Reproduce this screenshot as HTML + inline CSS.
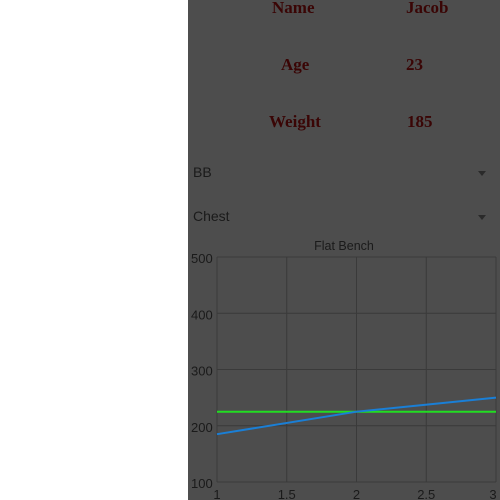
<!DOCTYPE html>
<html><head><meta charset="utf-8"><style>
body{margin:0;width:500px;height:500px;background:#fff;position:relative;overflow:hidden;font-family:"Liberation Sans",sans-serif}
#panel{position:absolute;left:188px;top:0;width:312px;height:500px;background:#4d4d4d}
.lbl{position:absolute;font-family:"Liberation Serif",serif;font-size:17px;color:#3a0505;font-weight:bold}
.dd{position:absolute;left:5px;font-size:14px;color:#1a1a1a}
.arrow{position:absolute;left:290px;width:0;height:0;border-left:4px solid transparent;border-right:4px solid transparent;border-top:5px solid #2a2a2a}
</style></head><body>
<div id="panel">
<div class="lbl" style="left:84px;top:-2px">Name</div>
<div class="lbl" style="left:218px;top:-2px">Jacob</div>
<div class="lbl" style="left:93px;top:55px">Age</div>
<div class="lbl" style="left:218px;top:55px">23</div>
<div class="lbl" style="left:81px;top:112px">Weight</div>
<div class="lbl" style="left:219px;top:112px">185</div>
<div class="dd" style="top:164px">BB</div>
<div class="arrow" style="top:171px"></div>
<div class="dd" style="top:208px">Chest</div>
<div class="arrow" style="top:215px"></div>
</div>
<svg id="chart" width="500" height="500" style="position:absolute;left:0;top:0"></svg>
<script>
const xTicks=[1,1.5,2,2.5,3];
const yTicks=[100,200,300,400,500];
const xsBlue=[1,2,3];
const blueValues=[185,225,250];
const xsGreen=[1,3];
const greenValues=[225,225];
const svg=document.getElementById('chart');
const NS='http://www.w3.org/2000/svg';
const L=217,R=496,T=257,B=482;
const sx=v=>L+(v-1)/(3-1)*(R-L);
const sy=v=>B-(v-100)/(500-100)*(B-T);
function mk(t,a){const e=document.createElementNS(NS,t);for(const k in a)e.setAttribute(k,a[k]);svg.appendChild(e);return e;}
const title=mk('text',{x:344,y:250,'text-anchor':'middle','font-size':12.5,fill:'#1a1a1a','font-family':'Liberation Sans, sans-serif'});
title.textContent='Flat Bench';


xTicks.forEach((v,i)=>{
 const l=mk('line',{x1:sx(v),x2:sx(v),y1:T,y2:B,stroke:'#3a3a3a','stroke-width':1});
 
 
 const t=mk('text',{x:Math.min(sx(v),493),y:499,'text-anchor':'middle','font-size':13,fill:'#1a1a1a'});
 t.textContent=v;
 
 
});
yTicks.forEach(v=>{
 const l=mk('line',{x1:L,x2:R,y1:sy(v),y2:sy(v),stroke:'#3a3a3a','stroke-width':1});
 
 
 const t=mk('text',{x:191,y:sy(v)+6,'font-size':13,fill:'#1a1a1a'});
 t.textContent=v;
 
 
});
const g=mk('polyline',{points:xsGreen.map((x,i)=>sx(x)+','+sy(greenValues[i])).join(' '),fill:'none',stroke:'#22dd22','stroke-width':2});


const b=mk('polyline',{points:xsBlue.map((x,i)=>sx(x)+','+sy(blueValues[i])).join(' '),fill:'none',stroke:'#1a7fd6','stroke-width':2});


</script>
</body></html>
